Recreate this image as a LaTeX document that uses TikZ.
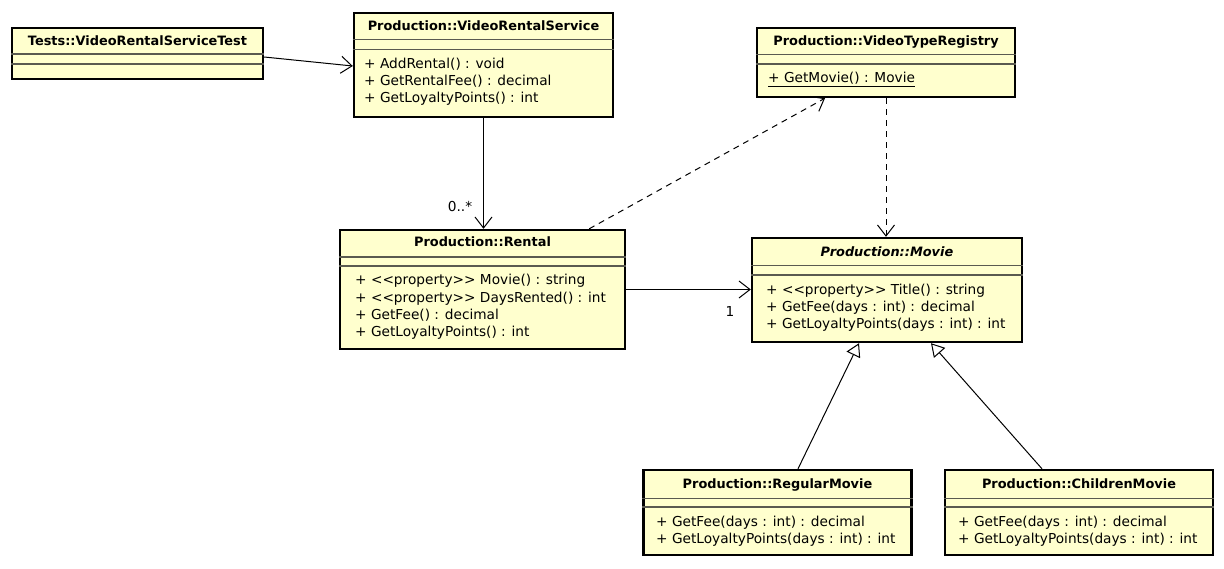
\documentclass[tikz,border=0pt]{standalone}
\usepackage{fontspec}
\setmainfont{DejaVu Sans}
\usetikzlibrary{arrows.meta,calc}
\definecolor{umlfill}{RGB}{255,255,206}
\definecolor{sepgray}{RGB}{90,90,80}
\newcommand{\stereo}[1]{<{}<#1>{}>}
\begin{document}
\begin{tikzpicture}[x=1pt,y=-1pt,
  classbox/.style={draw=black, line width=2.4pt, fill=umlfill, inner sep=0pt},
  sepline/.style={draw=sepgray, line width=1.2pt},
  ctitle/.style={font=\fontsize{12.9}{14}\selectfont\bfseries, inner sep=0pt, text height=9.5pt, text depth=2.5pt},
  member/.style={font=\fontsize{13.7}{15}\selectfont, inner sep=0pt, anchor=west, text height=10pt, text depth=3pt},
  mult/.style={font=\fontsize{13.7}{15}\selectfont, inner sep=0pt},
  assoc/.style={draw=black, line width=1pt, -{Straight Barb[length=11pt,width=17pt]}},
  dep/.style={assoc, dash pattern=on 6pt off 5pt},
  gen/.style={draw=black, line width=1pt, -{Triangle[open,length=13pt,width=15pt,fill=white]}}]
\useasboundingbox (0,0) rectangle (1224,568);

% Tests::VideoRentalServiceTest
\node[classbox, minimum width=251pt, minimum height=51pt] (tests) at (137.5,53.5) {};
\draw[sepline] (tests.west |- 0,54) -- (tests.east |- 0,54);
\draw[sepline] (tests.west |- 0,64) -- (tests.east |- 0,64);
\node[ctitle] (testsT) at (137.5,41.5) {Tests::VideoRentalServiceTest};

% Production::VideoRentalService
\node[classbox, minimum width=259pt, minimum height=104pt] (vrs) at (483.5,65) {};
\draw[sepline] (vrs.west |- 0,39.5) -- (vrs.east |- 0,39.5);
\draw[sepline] (vrs.west |- 0,49.5) -- (vrs.east |- 0,49.5);
\node[ctitle] (vrsT) at (483.5,27) {Production::VideoRentalService};
\node[member] (vrs1) at (364,65) {+ AddRental() : void};
\node[member] (vrs2) at (364,82) {+ GetRentalFee() : decimal};
\node[member] (vrs3) at (364,99) {+ GetLoyaltyPoints() : int};

% Production::VideoTypeRegistry
\node[classbox, minimum width=258pt, minimum height=69pt] (vtr) at (886,62.5) {};
\draw[sepline] (vtr.west |- 0,54.5) -- (vtr.east |- 0,54.5);
\draw[sepline] (vtr.west |- 0,64) -- (vtr.east |- 0,64);
\node[ctitle] (vtrT) at (886,42) {Production::VideoTypeRegistry};
\node[member] (vtr1) at (768,79) {\underline{+ GetMovie() : Movie}};

% Production::Rental
\node[classbox, minimum width=285pt, minimum height=119pt] (rental) at (482.5,289.5) {};
\draw[sepline] (rental.west |- 0,257) -- (rental.east |- 0,257);
\draw[sepline] (rental.west |- 0,266) -- (rental.east |- 0,266);
\node[ctitle] (rentalT) at (482.5,243) {Production::Rental};
\node[member] (rental1) at (355,281) {+ \stereo{property} Movie() : string};
\node[member] (rental2) at (355,298.5) {+ \stereo{property} DaysRented() : int};
\node[member] (rental3) at (355,316) {+ GetFee() : decimal};
\node[member] (rental4) at (355,333) {+ GetLoyaltyPoints() : int};

% Production::Movie
\node[classbox, minimum width=270pt, minimum height=104pt] (movie) at (887,290) {};
\draw[sepline] (movie.west |- 0,265.5) -- (movie.east |- 0,265.5);
\draw[sepline] (movie.west |- 0,275) -- (movie.east |- 0,275);
\node[ctitle, font=\fontsize{12.9}{14}\selectfont\bfseries\itshape] (movieT) at (887,253) {Production::Movie};
\node[member] (movie1) at (766,291) {+ \stereo{property} Title() : string};
\node[member] (movie2) at (766,308) {+ GetFee(days : int) : decimal};
\node[member] (movie3) at (766,325) {+ GetLoyaltyPoints(days : int) : int};

% Production::RegularMovie
\node[classbox, minimum width=268pt, minimum height=85pt] (regular) at (777.5,512.5) {};
\draw[sepline] (regular.west |- 0,498.5) -- (regular.east |- 0,498.5);
\draw[sepline] (regular.west |- 0,507) -- (regular.east |- 0,507);
\node[ctitle] (regularT) at (777.5,485) {Production::RegularMovie};
\node[member] (regular1) at (656,523) {+ GetFee(days : int) : decimal};
\node[member] (regular2) at (656,540) {+ GetLoyaltyPoints(days : int) : int};

% Production::ChildrenMovie
\node[classbox, minimum width=268pt, minimum height=85pt] (children) at (1079,512.5) {};
\draw[sepline] (children.west |- 0,498.5) -- (children.east |- 0,498.5);
\draw[sepline] (children.west |- 0,507) -- (children.east |- 0,507);
\node[ctitle] (childrenT) at (1079,485) {Production::ChildrenMovie};
\node[member] (children1) at (958,523) {+ GetFee(days : int) : decimal};
\node[member] (children2) at (958,540) {+ GetLoyaltyPoints(days : int) : int};

% Connectors
\draw[assoc] ([yshift=-3.5pt]tests.east) -- ([yshift=-1pt]vrs.west);
\draw[assoc] (vrs.south) -- (vrs.south |- rental.north);
\node[mult] (mult1) at (460,207) {0..*};
\draw[dep] ([xshift=-37pt]rental.north east) -- ([xshift=-61pt]vtr.south);
\draw[dep] (vtr.south) -- (vtr.south |- movie.north);
\draw[assoc] (rental.east) -- (rental.east -| movie.west);
\node[mult] (mult2) at (730,312) {1};
\draw[gen] ([xshift=20.5pt]regular.north) -- ([xshift=-28pt]movie.south);
\draw[gen] ([xshift=-37pt]children.north) -- ([xshift=44pt]movie.south);
\end{tikzpicture}
\end{document}
